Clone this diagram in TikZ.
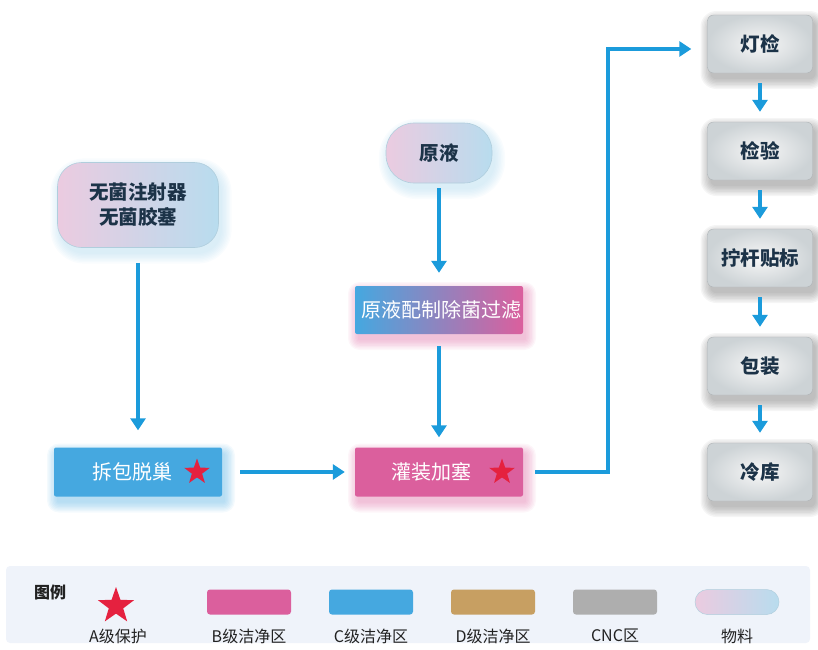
\documentclass[tikz,border=0pt]{standalone}
\usepackage{fontspec}
\setmainfont{Noto Sans CJK SC}
\usetikzlibrary{arrows.meta,shapes.geometric,backgrounds}
\definecolor{arrowblue}{HTML}{1B9BDB}
\definecolor{cblue}{HTML}{45A8E0}
\definecolor{bpink}{HTML}{DB5F9D}
\definecolor{dtan}{HTML}{C79F62}
\definecolor{cncgray}{HTML}{AEAEAE}
\definecolor{navy}{HTML}{1C3348}
\definecolor{matpink}{HTML}{EBCBE0}
\definecolor{matblue}{HTML}{B8DCEE}
\definecolor{starred}{HTML}{E5213F}
\definecolor{legbg}{HTML}{EFF3FA}
\definecolor{grayedge}{HTML}{CDD3D6}
\definecolor{graycore}{HTML}{F7F7F7}
\definecolor{labeltext}{HTML}{222222}
\newcommand\glowbox[3]{%
  \begin{scope}[on background layer]
    \foreach \k in {0,...,7}{
      \fill[#2, opacity=0.06, rounded corners=#3+\k*1.4pt]
        ([xshift=3pt-\k*1.4pt, yshift=-6pt-\k*1.4pt]#1.south west) rectangle
        ([xshift=3pt+\k*1.4pt, yshift=-6pt+\k*1.4pt]#1.north east);
    }
  \end{scope}}
\tikzset{
  flow/.style={draw=arrowblue, line width=3.6pt, -{Triangle[width=15pt,length=12pt]}},
  matnode/.style={rounded corners=24pt, left color=matpink, right color=matblue,
    draw=matblue!85!gray, line width=0.6pt, text=navy, align=center,
    font=\fontsize{19.5}{25}\selectfont\bfseries},
  procbox/.style={rounded corners=2pt, minimum width=168pt, minimum height=49pt},
  proctext/.style={text=white, font=\fontsize{20}{24}\selectfont, inner sep=0pt},
  graybox/.style={rounded corners=6pt, inner color=graycore, outer color=grayedge,
    draw=grayedge!85!black, line width=0.4pt, minimum width=105pt, minimum height=58pt,
    text=navy, font=\fontsize{19.5}{24}\selectfont\bfseries},
  redstar/.style={star, star points=5, star point ratio=2.5, fill=starred, inner sep=0pt},
  legrect/.style={rounded corners=3pt, minimum width=84pt, minimum height=25pt, inner sep=0pt},
  leglabel/.style={text=labeltext, font=\fontsize{16}{19}\selectfont},
}
\begin{document}
\begin{tikzpicture}[x=1pt, y=-1pt]
\useasboundingbox (0,0) rectangle (818,649);
% legend background
\fill[legbg, rounded corners=4pt] (6,566) rectangle (810,643);
% material nodes
\node[matnode, minimum width=161pt, minimum height=85pt] (mat1) at (138,205) {无菌注射器\\无菌胶塞};
\node[matnode, rounded corners=28pt, minimum width=106pt, minimum height=60pt] (yuanye) at (439,153) {原液};
% process boxes
\node[procbox, fill=cblue] (chaibao) at (138,472) {};
\node[proctext] (chaibaotext) at (132,472) {拆包脱巢};
\node[redstar, minimum size=27pt] (star1) at (197,472) {};
\node[procbox, fill=bpink] (guanzhuang) at (439,472) {};
\node[proctext] (guanzhuangtext) at (431,472) {灌装加塞};
\node[redstar, minimum size=27pt] (star2) at (502,472) {};
\node[procbox, minimum height=48pt, left color=cblue, right color=bpink] (peizhi) at (439,310) {};
\node[proctext] (peizhitext) at (441,310) {原液配制除菌过滤};
% right column
\node[graybox] (dengjian) at (760,44) {灯检};
\node[graybox] (jianyan) at (760,151) {检验};
\node[graybox] (ninggan) at (760,258) {拧杆贴标};
\node[graybox] (baozhuang) at (760,366) {包装};
\node[graybox] (lengku) at (760,472) {冷库};
% glows
\glowbox{mat1}{matblue!80!cblue}{24pt}
\glowbox{yuanye}{matblue!80!cblue}{28pt}
\glowbox{chaibao}{cblue}{2pt}
\glowbox{guanzhuang}{bpink}{2pt}
\glowbox{peizhi}{bpink}{2pt}
\glowbox{dengjian}{gray!70!black}{6pt}
\glowbox{jianyan}{gray!70!black}{6pt}
\glowbox{ninggan}{gray!70!black}{6pt}
\glowbox{baozhuang}{gray!70!black}{6pt}
\glowbox{lengku}{gray!70!black}{6pt}
% connectors
\draw[flow, shorten <=15pt, shorten >=17pt] (mat1) -- (chaibao);
\draw[flow, shorten <=18pt, shorten >=10pt] (chaibao) -- (guanzhuang);
\draw[flow, shorten <=5pt, shorten >=13pt] (yuanye) -- (peizhi);
\draw[flow, shorten <=12pt, shorten >=10pt] (peizhi) -- (guanzhuang);
\coordinate (turn) at (608,49);
\draw[flow] ([xshift=12pt]guanzhuang.east) -| (turn) -- ([xshift=-16pt, yshift=-5pt]dengjian.west);
\draw[flow, shorten <=10pt, shorten >=10pt] (dengjian) -- (jianyan);
\draw[flow, shorten <=10pt, shorten >=10pt] (jianyan) -- (ninggan);
\draw[flow, shorten <=10pt, shorten >=10pt] (ninggan) -- (baozhuang);
\draw[flow, shorten <=10pt, shorten >=10pt] (baozhuang) -- (lengku);
% legend
\node[text=labeltext, font=\fontsize{16}{19}\selectfont\bfseries] (legtitle) at (50,592) {图例};
\node[redstar, minimum size=38pt] (legstar) at (116,606) {};
\node[legrect, fill=bpink] (legB) at (249,602) {};
\node[legrect, fill=cblue] (legC) at (371,602) {};
\node[legrect, fill=dtan] (legD) at (493,602) {};
\node[legrect, fill=cncgray] (legCNC) at (615,602) {};
\node[legrect, rounded corners=12.5pt, left color=matpink, right color=matblue, draw=matblue!85!gray, line width=0.5pt] (legM) at (737,602) {};
\node[leglabel] (labA) at (118,636) {A级保护};
\node[leglabel] (labB) at (249,636) {B级洁净区};
\node[leglabel] (labC) at (371,636) {C级洁净区};
\node[leglabel] (labD) at (493,636) {D级洁净区};
\node[leglabel] (labCNC) at (615,636) {CNC区};
\node[leglabel] (labM) at (737,636) {物料};
\end{tikzpicture}
\end{document}
